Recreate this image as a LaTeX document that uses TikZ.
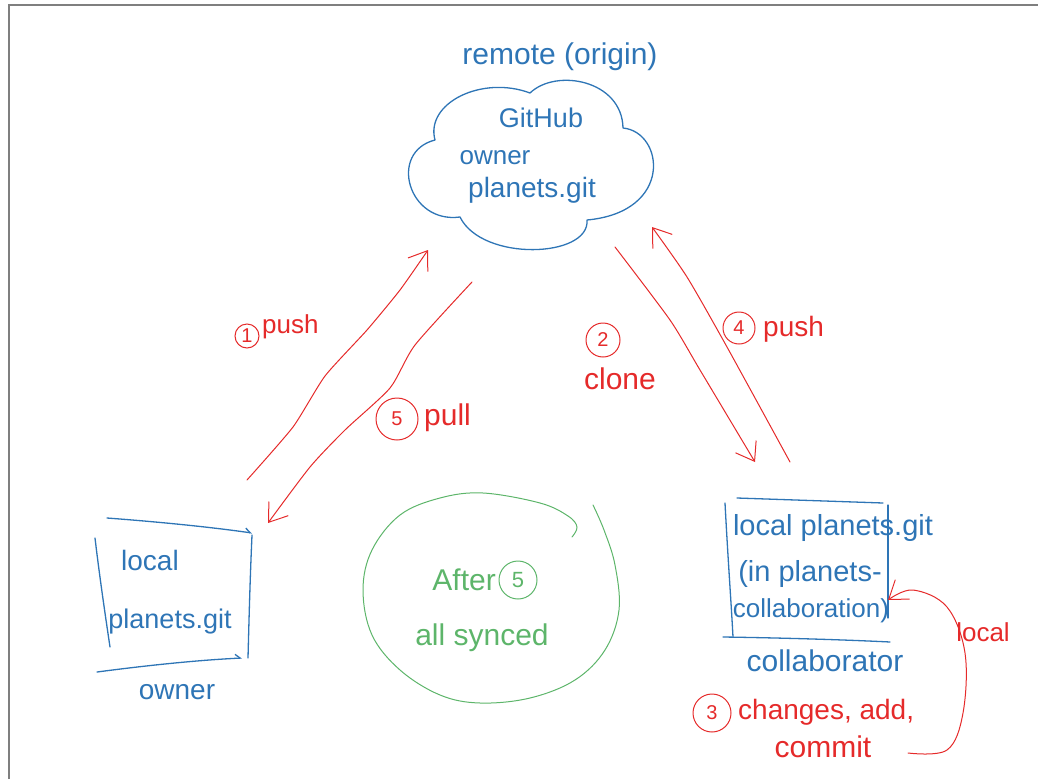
\documentclass[tikz,border=0pt]{standalone}
\usepackage{fontspec}
\setmainfont{Liberation Sans}
\usetikzlibrary{arrows.meta}
\definecolor{bluepen}{HTML}{2E75B6}
\definecolor{redpen}{HTML}{E52A2A}
\definecolor{greenpen}{HTML}{5DB56A}
\definecolor{framegray}{HTML}{7F7F7F}
\begin{document}
\begin{tikzpicture}[x=1pt,y=-1pt,
  btext/.style={text=bluepen, inner sep=0pt, font=\fontsize{#1}{#1}\selectfont},
  rtext/.style={text=redpen, inner sep=0pt, font=\fontsize{#1}{#1}\selectfont},
  gtext/.style={text=greenpen, inner sep=0pt, font=\fontsize{#1}{#1}\selectfont},
  rnum/.style={circle, draw=redpen, text=redpen, line width=1pt, inner sep=0pt, minimum size=#1, font=\fontsize{20}{20}\selectfont},
  gnum/.style={circle, draw=greenpen, text=greenpen, line width=1pt, inner sep=0pt, minimum size=#1, font=\fontsize{22}{22}\selectfont},
  bline/.style={draw=bluepen, line width=1.3pt, line cap=round, line join=round},
  rline/.style={draw=redpen, line width=1pt, line cap=round, line join=round},
  gline/.style={draw=greenpen, line width=1pt, line cap=round, line join=round},
  rtip/.style={-{Straight Barb[length=17pt, width=24pt, line width=1pt]}},
  hook/.style={-{Straight Barb[harpoon, length=5pt, width=8pt]}}]
\useasboundingbox (0,0) rectangle (1038,779);
% frame
\draw[framegray, line width=1.5pt] (9,779) -- (9,5) -- (1038,5);

% ---------- remote cloud ----------
\node[btext=30] (remotelbl) at (560,57) {remote (origin)};
\draw[bline] (435,140) .. controls (425,103) and (482,75) .. (530,93)
  .. controls (556,68) and (622,80) .. (623,128)
  .. controls (664,132) and (674,212) .. (587,220)
  .. controls (590,258) and (482,262) .. (460,217)
  .. controls (408,224) and (388,152) .. (435,140) -- cycle;
\node[btext=27] (github) at (541,118) {GitHub};
\node[btext=26] (cowner) at (495,158) {owner};
\node[btext=28] (cplanets) at (532,190) {planets.git};

% ---------- owner local box ----------
\draw[bline, hook] (107,518) .. controls (160,522) and (210,527) .. (252,533);
\draw[bline] (95,538) .. controls (100,580) and (106,620) .. (110,647);
\draw[bline] (252,535) .. controls (250,580) and (249,620) .. (248,658);
\draw[bline, hook] (97,672) .. controls (150,665) and (200,660) .. (242,658);
\node[btext=28] (olocal) at (150,560) {local};
\node[btext=27] (oplanets) at (170,622) {planets.git};
\node[btext=28] (ownerlbl) at (177,692) {owner};

% ---------- collaborator box ----------
\draw[bline] (737,498) -- (883,503);
\draw[bline] (725,503) .. controls (728,560) and (731,600) .. (733,637);
\draw[bline] (888,505) -- (888,618);
\draw[bline] (723,637) .. controls (790,638) and (850,640) .. (890,642);
\node[btext=29] (clocal) at (833,528) {local planets.git};
\node[btext=29] (cin) at (810,574) {(in planets-};
\node[btext=26] (ccollab) at (811,611) {collaboration)};
\node[btext=30] (collablbl) at (825,661) {collaborator};

% ---------- arrows ----------
\coordinate (p1s) at (247,480);
\coordinate (p1e) at (428,250);
\draw[rline, rtip] plot[smooth, tension=0.35] coordinates {(p1s) (293,427) (325,376) (367,330) (400,290) (p1e)};
\node[rnum=24pt] (n1) at (247,336) {1};
\node[rtext=26, anchor=west] (push1) at (262,327) {push};

\coordinate (p5s) at (472,282);
\coordinate (p5e) at (268,523);
\draw[rline, rtip] plot[smooth, tension=0.4] coordinates {(p5s) (415,345) (390,388) (345,430) (310,467) (p5e)};
\node[rnum=42pt] (n5) at (397,419) {5};
\node[rtext=30, anchor=west] (pull5) at (424,418) {pull};

\coordinate (p2s) at (615,247);
\coordinate (p2e) at (755,462);
\draw[rline, rtip] plot[smooth, tension=0.4] coordinates {(p2s) (670,320) (700,370) (p2e)};
\node[rnum=34pt] (n2) at (603,340) {2};
\node[rtext=30] (clone2) at (620,379) {clone};

\coordinate (p4s) at (790,462);
\coordinate (p4e) at (652,227);
\draw[rline, rtip] plot[smooth, tension=0.4] coordinates {(p4s) (727,347) (687,277) (p4e)};
\node[rnum=32pt] (n4) at (739,328) {4};
\node[rtext=28, anchor=west] (push4) at (763,329) {push};

\coordinate (pls) at (908,753);
\coordinate (ple) at (888,600);
\draw[rline, rtip] plot[smooth, tension=0.6] coordinates {(pls) (947,750) (963,713) (965,653) (947,607) (913,590) (ple)};
\node[rtext=26] (locallbl) at (983,632) {local};
\node[rnum=38pt] (n3) at (712,713) {3};
\node[rtext=28, anchor=west] (changes) at (738,712) {changes, add,};
\node[rtext=30] (commit) at (823,747) {commit};

% ---------- green circle ----------
\draw[gline] plot[smooth, tension=0.6] coordinates {(572,537) (577,527) (568,516) (540,503) (483,493) (440,498) (400,515) (372,550) (363,590) (372,635) (400,670) (440,695) (480,703) (530,698) (575,680) (605,650) (619,610) (615,565) (604,530) (593,505)};
\node[gtext=30, anchor=east] (after) at (496,580) {After};
\node[gnum=38pt] (g5) at (518,580) {5};
\node[gtext=30] (synced) at (482,638) {all synced};
\end{tikzpicture}
\end{document}
